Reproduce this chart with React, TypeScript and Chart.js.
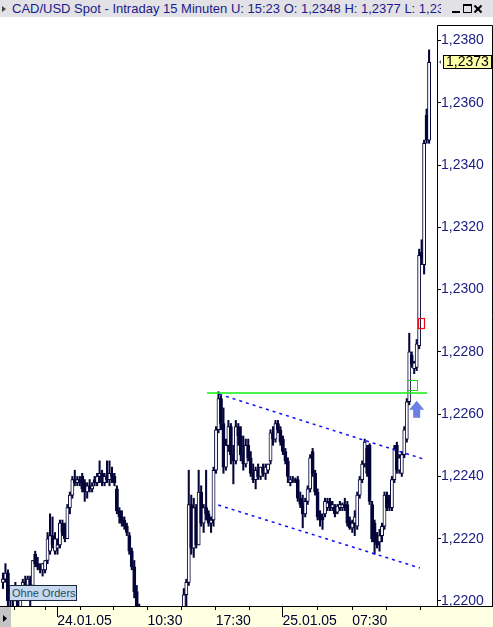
import React, { useEffect, useRef } from 'react';
import { Chart, registerables } from 'chart.js';

Chart.register(...registerables);

// ---- 15-minute candles (CAD/USD) ----
const candleOpen = [
  1.2206, 1.2207, 1.2209, 1.2200, 1.2201, 1.2204, 1.2202, 1.2198, 1.2204, 1.2206,
  1.2205, 1.2207, 1.2205, 1.2215, 1.2212, 1.2211, 1.2210, 1.2210, 1.2213, 1.2216,
  1.2221, 1.2216, 1.2217, 1.2218, 1.2225, 1.2224, 1.2220, 1.2230, 1.2234, 1.2239,
  1.2238, 1.2239, 1.2240, 1.2238, 1.2235, 1.2237, 1.2236, 1.2239, 1.2238, 1.2240,
  1.2241, 1.2238, 1.2240, 1.2239, 1.2241, 1.2240, 1.2236, 1.2229, 1.2227, 1.2226,
  1.2224, 1.2221, 1.2216, 1.2211, 1.2203, 1.2194, 1.2190, 1.2188, 1.2186, 1.2184,
  1.2182, 1.2180, 1.2181, 1.2183, 1.2181, 1.2179, 1.2182, 1.2185, 1.2187, 1.2189,
  1.2191, 1.2192, 1.2194, 1.2196, 1.2202, 1.2206, 1.2231, 1.2217, 1.2230, 1.2218,
  1.2235, 1.2225, 1.2230, 1.2228, 1.2225, 1.2226, 1.2242, 1.2255, 1.2265, 1.2257,
  1.2243, 1.2250, 1.2256, 1.2247, 1.2245, 1.2256, 1.2253, 1.2247, 1.2244, 1.2250,
  1.2246, 1.2241, 1.2239, 1.2242, 1.2240, 1.2243, 1.2241, 1.2242, 1.2245, 1.2254,
  1.2252, 1.2257, 1.2255, 1.2252, 1.2248, 1.2245, 1.2238, 1.2239, 1.2239, 1.2239,
  1.2233, 1.2231, 1.2228, 1.2232, 1.2236, 1.2248, 1.2241, 1.2235, 1.2228, 1.2227,
  1.2228, 1.2230, 1.2232, 1.2230, 1.2230, 1.22285, 1.2230, 1.2230, 1.2231, 1.2231,
  1.22257, 1.22235, 1.2225, 1.2224, 1.2234, 1.2239, 1.2244, 1.2249, 1.2250, 1.2231,
  1.2225, 1.2219, 1.2219, 1.2221, 1.2224, 1.2234, 1.2233, 1.2230, 1.2239, 1.2250,
  1.2242, 1.2241, 1.2247, 1.2252, 1.2264, 1.2279, 1.22746, 1.2275, 1.2282, 1.2312,
  1.2308, 1.2356, 1.2348,
];
const candleHigh = [
  1.2209, 1.2212, 1.2210, 1.2203, 1.2205, 1.2206, 1.2204, 1.2205, 1.2207, 1.2208,
  1.2208, 1.2208, 1.2213, 1.2216, 1.2214, 1.2212, 1.2212, 1.2213, 1.2222, 1.2228,
  1.2227, 1.2222, 1.2220, 1.2226, 1.2226, 1.2225, 1.2231, 1.2235, 1.2240, 1.2242,
  1.2240, 1.2240, 1.2241, 1.2239, 1.2238, 1.2239, 1.2238, 1.2240, 1.2241, 1.2245,
  1.2242, 1.2241, 1.2245, 1.2245, 1.2243, 1.2241, 1.2237, 1.2230, 1.2229, 1.2227,
  1.2225, 1.2222, 1.2217, 1.2213, 1.2205, 1.2199, 1.2198, 1.2194, 1.2190, 1.2188,
  1.2186, 1.2185, 1.2186, 1.2188, 1.2185, 1.2184, 1.2188, 1.2190, 1.2192, 1.2194,
  1.2195, 1.2196, 1.2197, 1.2204, 1.2207, 1.2242, 1.2234, 1.2233, 1.2231, 1.2242,
  1.2237, 1.2231, 1.2242, 1.2229, 1.2227, 1.2243, 1.2256, 1.22672, 1.2266, 1.2262,
  1.2252, 1.2258, 1.2257, 1.2250, 1.2258, 1.2257, 1.2256, 1.2253, 1.2252, 1.2252,
  1.2248, 1.2244, 1.2243, 1.2244, 1.2243, 1.2244, 1.2244, 1.2244, 1.2255, 1.2256,
  1.2258, 1.2258, 1.2256, 1.2253, 1.2249, 1.2246, 1.2240, 1.2240, 1.22395, 1.2240,
  1.2235, 1.2234, 1.2233, 1.2237, 1.2247, 1.2249, 1.2242, 1.2236, 1.2229, 1.2228,
  1.2233, 1.2233, 1.2233, 1.2232, 1.2231, 1.2231, 1.2232, 1.22315, 1.2233, 1.2232,
  1.2227, 1.2226, 1.2229, 1.2235, 1.2240, 1.2245, 1.2252, 1.2250, 1.22505, 1.2232,
  1.2226, 1.2222, 1.2223, 1.2225, 1.2235, 1.2235, 1.2234, 1.2240, 1.2250, 1.2251,
  1.2247, 1.2248, 1.2256, 1.2265, 1.2286, 1.2280, 1.2277, 1.2284, 1.2313, 1.2316,
  1.2348, 1.2358, 1.2377,
];
const candleLow = [
  1.2204, 1.2206, 1.2196, 1.2195, 1.2198, 1.2200, 1.2196, 1.2197, 1.2203, 1.2204,
  1.2203, 1.21985, 1.2204, 1.2211, 1.2210, 1.2209, 1.2208, 1.2209, 1.2212, 1.2215,
  1.2217, 1.2215, 1.2215, 1.2217, 1.2221, 1.2219, 1.2220, 1.2228, 1.2233, 1.2237,
  1.2237, 1.2237, 1.2235, 1.2232, 1.2233, 1.2235, 1.2235, 1.2237, 1.2237, 1.2238,
  1.2237, 1.2237, 1.2238, 1.2237, 1.2238, 1.2237, 1.2228, 1.2225, 1.2224, 1.2223,
  1.2221, 1.2215, 1.2210, 1.2201, 1.2192, 1.2188, 1.2185, 1.2184, 1.2182, 1.2180,
  1.2178, 1.2176, 1.2178, 1.2179, 1.2177, 1.2175, 1.2180, 1.2181, 1.2184, 1.2186,
  1.2187, 1.2188, 1.2190, 1.2192, 1.2197, 1.2205, 1.2215, 1.2214, 1.2217, 1.2218,
  1.2224, 1.2222, 1.2226, 1.2224, 1.2222, 1.2224, 1.2241, 1.2254, 1.2255, 1.2241,
  1.2242, 1.2248, 1.2244, 1.22376, 1.2244, 1.2250, 1.2245, 1.2242, 1.2243, 1.2245,
  1.2240, 1.2238, 1.2236, 1.2239, 1.2239, 1.2240, 1.2239, 1.2241, 1.2244, 1.2250,
  1.2251, 1.2254, 1.2250, 1.2247, 1.2244, 1.2238, 1.2237, 1.2238, 1.2238, 1.2232,
  1.2230, 1.22235, 1.2227, 1.2231, 1.2235, 1.2240, 1.2234, 1.2226, 1.2224, 1.2223,
  1.2227, 1.2229, 1.2229, 1.2229, 1.2227, 1.2228, 1.2229, 1.2229, 1.2229, 1.2224,
  1.2223, 1.2222, 1.2221, 1.2223, 1.2233, 1.2238, 1.2243, 1.2240, 1.2231, 1.2219,
  1.2215, 1.2217, 1.2216, 1.2219, 1.2223, 1.2229, 1.2229, 1.2229, 1.2238, 1.2241,
  1.2241, 1.2240, 1.2246, 1.2251, 1.2263, 1.2275, 1.2273, 1.2274, 1.2281, 1.2308,
  1.2305, 1.2347, 1.2347,
];
const candleClose = [
  1.2207, 1.2209, 1.2200, 1.2201, 1.2204, 1.2202, 1.2198, 1.2204, 1.2206, 1.2205,
  1.2207, 1.2205, 1.2213, 1.2212, 1.2211, 1.2210, 1.2212, 1.2213, 1.2220, 1.2221,
  1.2218, 1.2220, 1.2218, 1.2225, 1.2222, 1.2220, 1.2230, 1.2234, 1.2239, 1.2238,
  1.2239, 1.2238, 1.2236, 1.2235, 1.2237, 1.2236, 1.2237, 1.2238, 1.2240, 1.2241,
  1.2238, 1.2240, 1.2239, 1.2241, 1.2240, 1.2238, 1.2229, 1.2227, 1.2225, 1.2224,
  1.2222, 1.2216, 1.2211, 1.2203, 1.2194, 1.2190, 1.2188, 1.2186, 1.2184, 1.2182,
  1.2180, 1.2181, 1.2183, 1.2181, 1.2179, 1.2182, 1.2185, 1.2187, 1.2189, 1.2191,
  1.2192, 1.2194, 1.2196, 1.2202, 1.2206, 1.2231, 1.2217, 1.2230, 1.2218, 1.2235,
  1.2225, 1.2230, 1.2228, 1.2225, 1.2226, 1.2242, 1.2255, 1.2265, 1.2257, 1.2243,
  1.2250, 1.2256, 1.2247, 1.2245, 1.2256, 1.2253, 1.2247, 1.2244, 1.2250, 1.2246,
  1.2241, 1.2239, 1.2242, 1.2240, 1.2243, 1.2241, 1.2243, 1.2244, 1.2254, 1.2252,
  1.2257, 1.2255, 1.2251, 1.2248, 1.2245, 1.2240, 1.2239, 1.2239, 1.22385, 1.2233,
  1.2231, 1.2228, 1.2232, 1.2236, 1.2246, 1.2241, 1.2235, 1.2227, 1.2226, 1.2226,
  1.2232, 1.22315, 1.2230, 1.2231, 1.2228, 1.22305, 1.2231, 1.2231, 1.2230, 1.2225,
  1.22235, 1.2225, 1.2227, 1.2234, 1.2239, 1.2244, 1.2251, 1.2241, 1.2232, 1.2220,
  1.2219, 1.2218, 1.2221, 1.2224, 1.2234, 1.2230, 1.2230, 1.2239, 1.2249, 1.2242,
  1.2246, 1.2247, 1.2255, 1.2264, 1.2280, 1.2276, 1.22765, 1.22826, 1.2311, 1.2310,
  1.2347, 1.2348, 1.2373,
];

// ---- axes ----
const yTickValues = [1.2200, 1.2220, 1.2240, 1.2260, 1.2280, 1.2300, 1.2320, 1.2340, 1.2360, 1.2380];
const xTickValues = [4.8, 17.2, 21.9, 31.1, 44.5, 58.3, 72.1, 85.9, 99.4, 112.8, 126.9, 141, 154.9, 168.6];
const xTickLabels = ['', '', '24.01.05', '', '', '10:30', '', '17:30', '', '25.01.05', '', '07:30', '', ''];
const dayBoundaryTicks = [21.9, 112.8];
const X_MIN = -1.2;
const X_MAX = 175.2;
const Y_MIN = 1.219839;
const Y_MAX = 1.238755;

// ---- drawings ----
const resistanceLine = [{ x: 82.4, y: 1.22668 }, { x: 171.2, y: 1.22668 }];
const channelUpper = [{ x: 87.3, y: 1.22664 }, { x: 169.7, y: 1.22456 }];
const channelLower = [{ x: 86.9, y: 1.22308 }, { x: 168.3, y: 1.22106 }];
const entryBox = { index: 165, price: 1.22694 };
const stopBox = { index: 168.6, price: 1.22894 };
const signalArrow = { index: 167, price: 1.22643 };

const NAVY = '#05053a';
const FONT = '"Liberation Sans", Arial, sans-serif';

const decor = {
  id: 'decor',
  afterDatasetsDraw(chart: any) {
    const { ctx, chartArea, scales } = chart;
    const xs = scales.x;
    const ys = scales.y;
    ctx.save();
    ctx.beginPath();
    ctx.rect(chartArea.left, chartArea.top, chartArea.right - chartArea.left, chartArea.bottom - chartArea.top);
    ctx.clip();
    // entry box (green)
    const gx = Math.round(xs.getPixelForValue(entryBox.index));
    const gy = Math.round(ys.getPixelForValue(entryBox.price));
    ctx.strokeStyle = '#1ed21e';
    ctx.lineWidth = 1;
    ctx.strokeRect(gx - 5 + 0.5, gy - 5 + 0.5, 10, 10);
    // stop box (red)
    const rx = Math.round(xs.getPixelForValue(stopBox.index));
    const ry = Math.round(ys.getPixelForValue(stopBox.price));
    ctx.strokeStyle = '#ee1010';
    ctx.lineWidth = 1.2;
    ctx.strokeRect(rx - 3 + 0.5, ry - 5 + 0.5, 6, 10);
    // arrow
    const ax = xs.getPixelForValue(signalArrow.index);
    const ay = ys.getPixelForValue(signalArrow.price);
    ctx.fillStyle = '#6c7fe2';
    ctx.beginPath();
    ctx.moveTo(ax, ay);
    ctx.lineTo(ax + 7.5, ay + 9);
    ctx.lineTo(ax + 3.5, ay + 9);
    ctx.lineTo(ax + 3.5, ay + 17);
    ctx.lineTo(ax - 3.5, ay + 17);
    ctx.lineTo(ax - 3.5, ay + 9);
    ctx.lineTo(ax - 7.5, ay + 9);
    ctx.closePath();
    ctx.fill();
    ctx.restore();
    // bottom band (covers lowest price label like the original)
    ctx.save();
    ctx.fillStyle = '#ffffe1';
    ctx.fillRect(0, chartArea.bottom, chart.width, chart.height - chartArea.bottom);
    ctx.restore();
  },
  afterDraw(chart: any) {
    const { ctx, chartArea, scales } = chart;
    const W = chart.width;
    const H = chart.height;
    const ys = scales.y;
    ctx.save();
    ctx.strokeStyle = '#000';
    ctx.lineWidth = 1;
    // axis line
    ctx.beginPath();
    ctx.moveTo(0, chartArea.bottom + 0.5);
    ctx.lineTo(W, chartArea.bottom + 0.5);
    ctx.stroke();
    // price panel box
    const boxTop = 8;
    ctx.beginPath();
    ctx.moveTo(chartArea.right + 0.5, chartArea.bottom);
    ctx.lineTo(chartArea.right + 0.5, boxTop + 0.5);
    ctx.lineTo(W - 0.5, boxTop + 0.5);
    ctx.lineTo(W - 0.5, chartArea.bottom);
    ctx.stroke();
    // bottom-left gray box
    ctx.fillStyle = '#c4c4c4';
    ctx.fillRect(0, chartArea.bottom + 1, 11, H - chartArea.bottom - 1);
    ctx.fillStyle = '#000';
    ctx.beginPath();
    ctx.moveTo(3, chartArea.bottom + 9);
    ctx.lineTo(7, chartArea.bottom + 12.5);
    ctx.lineTo(3, chartArea.bottom + 16);
    ctx.closePath();
    ctx.fill();
    // last price label
    const last = candleClose[candleClose.length - 1];
    const py = Math.round(ys.getPixelForValue(last));
    const bx = chartArea.right + 6;
    ctx.fillStyle = '#ffffa8';
    ctx.fillRect(bx, py - 7, 49, 14);
    ctx.strokeRect(bx + 0.5, py - 6.5, 48, 13);
    ctx.fillStyle = '#000';
    ctx.font = '14px ' + FONT;
    ctx.textBaseline = 'middle';
    ctx.textAlign = 'left';
    ctx.fillText(last.toFixed(4).replace('.', ','), bx + 3, py + 0.5);
    ctx.fillStyle = '#555';
    ctx.beginPath();
    ctx.moveTo(chartArea.right + 2, py);
    ctx.lineTo(chartArea.right + 4, py - 2);
    ctx.lineTo(chartArea.right + 4, py + 2);
    ctx.closePath();
    ctx.fill();
    ctx.restore();
  },
};

export default function App() {
  const canvasRef = useRef<HTMLCanvasElement>(null);

  useEffect(() => {
    const canvas = canvasRef.current;
    if (!canvas) return;
    const idx = candleClose.map((_, i) => i);
    const bodies = idx.map((i) => ({ x: i, y: [candleOpen[i], candleClose[i]] }));
    const wicks = idx.map((i) => ({ x: i, y: [candleLow[i], candleHigh[i]] }));
    const bodyFill = idx.map((i) => (candleClose[i] >= candleOpen[i] ? '#ffffff' : NAVY));

    const chart = new Chart(canvas, {
      type: 'bar',
      data: {
        datasets: [
          {
            type: 'line',
            data: resistanceLine,
            borderColor: '#10ee10',
            borderWidth: 1.5,
            pointRadius: 0,
            order: 0,
            clip: 0,
          } as any,
          {
            type: 'line',
            data: channelUpper,
            borderColor: '#1010ff',
            borderWidth: 1.5,
            borderDash: [3, 4],
            pointRadius: 0,
            order: 0,
            clip: 0,
          } as any,
          {
            type: 'line',
            data: channelLower,
            borderColor: '#1010ff',
            borderWidth: 1.5,
            borderDash: [3, 4],
            pointRadius: 0,
            order: 0,
            clip: 0,
          } as any,
          {
            type: 'bar',
            data: bodies,
            backgroundColor: bodyFill,
            borderColor: NAVY,
            borderWidth: 1,
            borderSkipped: false,
            barThickness: 3.2,
            grouped: false,
            order: 1,
            clip: 0,
          } as any,
          {
            type: 'bar',
            data: wicks,
            backgroundColor: NAVY,
            borderWidth: 0,
            barThickness: 1.4,
            grouped: false,
            order: 2,
            clip: 0,
          } as any,
        ],
      },
      options: {
        responsive: false,
        animation: false,
        events: [],
        layout: { padding: 0 },
        plugins: { legend: { display: false }, tooltip: { enabled: false } },
        scales: {
          x: {
            type: 'linear',
            position: 'bottom',
            min: X_MIN,
            max: X_MAX,
            bounds: 'data',
            offset: false,
            border: { display: false },
            grid: {
              display: true,
              offset: false,
              drawOnChartArea: false,
              drawTicks: true,
              tickLength: 11,
              tickColor: '#000',
              tickWidth: 1,
              tickBorderDash: (c: any) =>
                c.tick && dayBoundaryTicks.includes(c.tick.value) ? [] : [4, 40],
              z: 1,
            },
            ticks: {
              autoSkip: false,
              maxRotation: 0,
              minRotation: 0,
              align: 'start',
              padding: -4.4,
              color: '#000030',
              font: { family: FONT, size: 14 },
              z: 1,
              callback: (v: any) => {
                const k = xTickValues.indexOf(Number(v));
                return k >= 0 ? xTickLabels[k] : '';
              },
            },
            afterBuildTicks: (s: any) => {
              s.ticks = xTickValues.map((v) => ({ value: v }));
            },
            afterFit: (s: any) => {
              s.height = 21;
              s.paddingLeft = 0;
              s.paddingRight = 0;
            },
          },
          y: {
            type: 'linear',
            position: 'right',
            min: Y_MIN,
            max: Y_MAX,
            bounds: 'data',
            border: { display: false },
            grid: {
              drawOnChartArea: false,
              drawTicks: true,
              tickLength: 4,
              tickColor: '#000',
            },
            ticks: {
              padding: 0,
              color: '#1a1a80',
              font: { family: FONT, size: 14 },
              callback: (v: any) => Number(v).toFixed(4).replace('.', ','),
            },
            afterBuildTicks: (s: any) => {
              s.ticks = yTickValues.map((v) => ({ value: v }));
            },
            afterFit: (s: any) => {
              s.width = 56;
              s.paddingTop = 0;
              s.paddingBottom = 0;
            },
          },
        },
      } as any,
      plugins: [decor],
    });
    return () => chart.destroy();
  }, []);

  return (
    <div
      style={{
        position: 'absolute',
        left: 0,
        top: 0,
        width: 493,
        height: 627,
        background: '#ffffff',
        overflow: 'hidden',
        fontFamily: FONT,
      }}
    >
      <div
        style={{
          position: 'absolute',
          left: 0,
          top: 0,
          width: 493,
          height: 17,
          background: '#e2e2e6',
        }}
      >
        <div
          style={{
            position: 'absolute',
            left: 2,
            top: 6,
            width: 0,
            height: 0,
            borderTop: '3px solid transparent',
            borderBottom: '3px solid transparent',
            borderLeft: '4px solid #444',
          }}
        />
        <div
          style={{
            position: 'absolute',
            left: 12,
            top: 0,
            width: 429,
            height: 17,
            overflow: 'hidden',
            whiteSpace: 'nowrap',
            fontSize: 13,
            lineHeight: '17px',
            color: '#1a1a8a',
          }}
        >
          CAD/USD Spot - Intraday 15 Minuten U: 15:23 O: 1,2348 H: 1,2377 L: 1,2346
        </div>
        <div style={{ position: 'absolute', left: 452, top: 11, width: 8, height: 2, background: '#000' }} />
        <div
          style={{
            position: 'absolute',
            left: 463,
            top: 4,
            width: 9,
            height: 9,
            boxSizing: 'border-box',
            border: '1px solid #000',
            borderTop: '2px solid #000',
          }}
        />
        <div
          style={{
            position: 'absolute',
            left: 473,
            top: 8,
            width: 10,
            height: 2,
            background: '#000',
            transform: 'rotate(45deg)',
          }}
        />
        <div
          style={{
            position: 'absolute',
            left: 473,
            top: 8,
            width: 10,
            height: 2,
            background: '#000',
            transform: 'rotate(-45deg)',
          }}
        />
      </div>
      <canvas
        ref={canvasRef}
        width={493}
        height={610}
        style={{ position: 'absolute', left: 0, top: 17, width: 493, height: 610 }}
      />
      <div
        style={{
          position: 'absolute',
          left: 9,
          top: 585,
          width: 68,
          height: 16,
          boxSizing: 'border-box',
          border: '1px solid #1a2a3a',
          background: '#c8d9ef',
          color: '#1d4d5d',
          fontSize: 11,
          lineHeight: '14px',
          paddingLeft: 2,
          whiteSpace: 'nowrap',
        }}
      >
        Ohne Orders
      </div>
    </div>
  );
}
